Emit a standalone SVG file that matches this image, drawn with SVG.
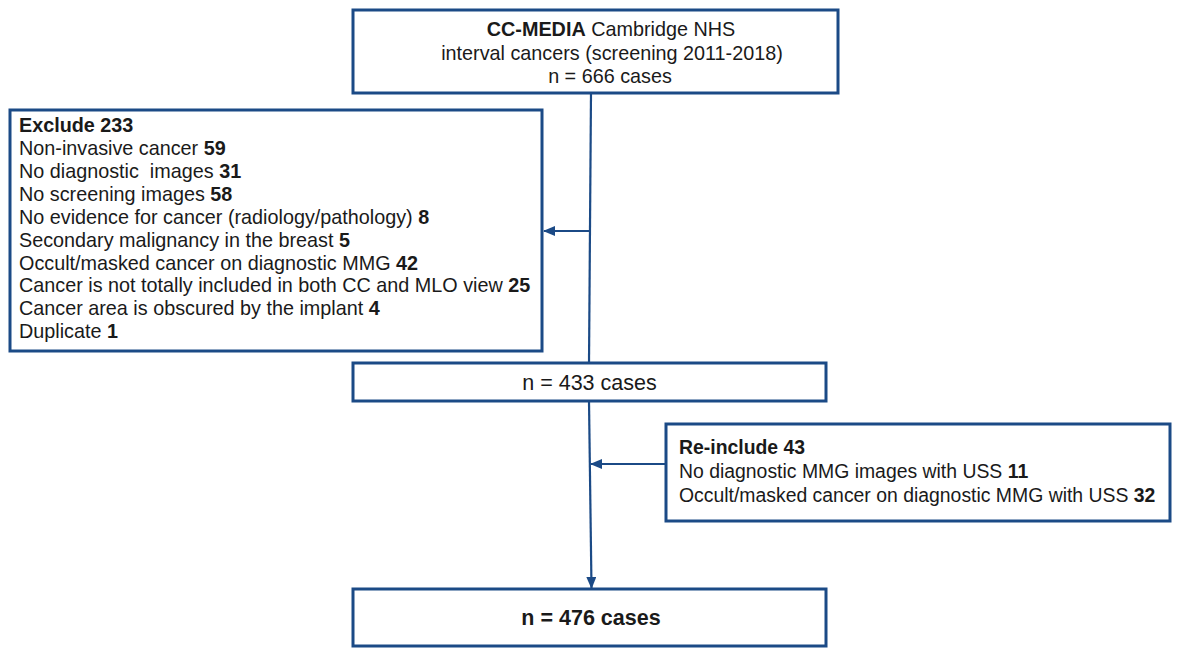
<svg xmlns="http://www.w3.org/2000/svg" width="1181" height="657" viewBox="0 0 1181 657">
<defs>
<style>
.box{fill:#fff;stroke:#1b4a86;stroke-width:3}
.con{fill:none;stroke:#1b4a86;stroke-width:2.2}
text{font-family:"Liberation Sans",Arial,sans-serif;fill:#1a1a1a;font-size:19.8px}
.b{font-weight:bold}
.pre{white-space:pre}
.r{font-size:19.4px}
</style>
<marker id="ah" markerWidth="12" markerHeight="10" refX="11" refY="5" orient="auto" markerUnits="userSpaceOnUse">
<path d="M0,0 L12,5 L0,10 Z" fill="#1b4a86"/>
</marker>
</defs>
<rect width="1181" height="657" fill="#fff"/>
<g id="connectors">
<path class="con" d="M591,93 L589,363"/>
<path class="con" d="M589.5,231 L544,231" marker-end="url(#ah)"/>
<path class="con" d="M589,401 L591.5,588" marker-end="url(#ah)"/>
<path class="con" d="M665,464 L591,464" marker-end="url(#ah)"/>
</g>
<g id="n_start">
<rect class="box" x="353" y="10" width="485" height="83"/>
<text x="611" y="36" text-anchor="middle"><tspan class="b">CC-MEDIA</tspan> Cambridge NHS</text>
<text x="612" y="60" text-anchor="middle">interval cancers (screening 2011-2018)</text>
<text x="610" y="83" text-anchor="middle">n = 666 cases</text>
</g>
<g id="n_exclude">
<rect class="box" x="10" y="110" width="532" height="241"/>
<text x="19" y="132.3" class="b">Exclude 233</text>
<text x="19" y="155.2">Non-invasive cancer <tspan class="b">59</tspan></text>
<text x="19" y="178" class="pre" xml:space="preserve">No diagnostic  images <tspan class="b">31</tspan></text>
<text x="19" y="200.9">No screening images <tspan class="b">58</tspan></text>
<text x="19" y="223.7">No evidence for cancer (radiology/pathology) <tspan class="b">8</tspan></text>
<text x="19" y="246.6">Secondary malignancy in the breast <tspan class="b">5</tspan></text>
<text x="19" y="269.5">Occult/masked cancer on diagnostic MMG <tspan class="b">42</tspan></text>
<text x="19" y="292.3">Cancer is not totally included in both CC and MLO view <tspan class="b">25</tspan></text>
<text x="19" y="315.2">Cancer area is obscured by the implant <tspan class="b">4</tspan></text>
<text x="19" y="338">Duplicate <tspan class="b">1</tspan></text>
</g>
<g id="n_433">
<rect class="box" x="353" y="363" width="473" height="38"/>
<text x="589.5" y="390" text-anchor="middle" style="font-size:21.5px">n = 433 cases</text>
</g>
<g id="n_reinclude">
<rect class="box" x="666" y="424" width="504" height="97"/>
<text x="679" y="454" class="b r">Re-include 43</text>
<text x="679" y="478" class="r">No diagnostic MMG images with USS <tspan class="b">11</tspan></text>
<text x="679" y="502" class="r">Occult/masked cancer on diagnostic MMG with USS <tspan class="b">32</tspan></text>
</g>
<g id="n_final">
<rect class="box" x="353" y="589" width="473" height="57"/>
<text x="591" y="625" text-anchor="middle" class="b" style="font-size:21.5px">n = 476 cases</text>
</g>
</svg>
